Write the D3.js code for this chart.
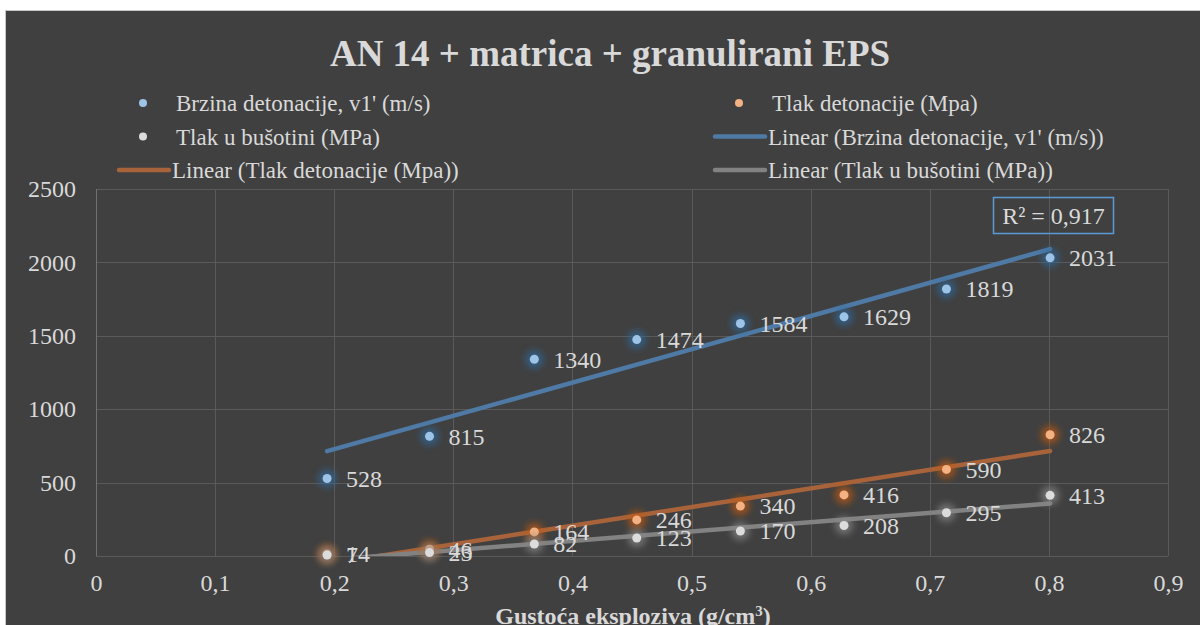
<!DOCTYPE html>
<html>
<head>
<meta charset="utf-8">
<script src="https://cdn.jsdelivr.net/npm/d3@7/dist/d3.min.js"></script>
</head>
<body style="margin:0">
<svg id="chart" width="1200" height="625"></svg>
<script>
// values
const density = [0.194, 0.28, 0.368, 0.454, 0.541, 0.628, 0.714, 0.801];
const brzina = [528, 815, 1340, 1474, 1584, 1629, 1819, 2031];
const tlakDetonacije = [14, 46, 164, 246, 340, 416, 590, 826];
const tlakBusotini = [7, 23, 82, 123, 170, 208, 295, 413];
const xTicks = [0, 0.1, 0.2, 0.3, 0.4, 0.5, 0.6, 0.7, 0.8, 0.9];
const yTicks = [0, 500, 1000, 1500, 2000, 2500];
const seriesNames = ["Brzina detonacije, v1' (m/s)", 'Tlak detonacije (Mpa)', 'Tlak u bušotini (MPa)'];
const rSquared = '0,917';

const width = 1200;
const height = 625;
const margin = { top: 189, left: 96, bottom: 69, right: 32 };
const innerW = width - margin.left - margin.right;
const innerH = height - margin.top - margin.bottom;

const font = '"Liberation Serif"';
const textColor = '#d9d9d9';
const series = [
  { name: seriesNames[0], values: brzina, dot: '#9dc3e6', glow: '#2f6aa0', line: '#4f7aa5' },
  { name: seriesNames[1], values: tlakDetonacije, dot: '#f4b183', glow: '#c55a11', line: '#a8633a' },
  { name: seriesNames[2], values: tlakBusotini, dot: '#dcdcdc', glow: '#8a8a8a', line: '#828282' }
];

const x = d3.scaleLinear().domain([0, 0.9]).range([0, innerW]);
const y = d3.scaleLinear().domain([0, 2500]).range([innerH, 0]);
const fmt = (d) => (d === 0 ? '0' : d3.format('.1f')(d).replace('.', ','));

const svg = d3.select('#chart');

const defs = svg.append('defs');
defs.append('filter')
  .attr('id', 'glow')
  .attr('x', '-100%').attr('y', '-100%')
  .attr('width', '300%').attr('height', '300%')
  .append('feGaussianBlur')
  .attr('stdDeviation', 3.5);
defs.append('clipPath')
  .attr('id', 'plotclip')
  .append('rect')
  .attr('width', innerW)
  .attr('height', innerH);

// chart panel
svg.append('rect')
  .attr('x', 5.5).attr('y', 10.5)
  .attr('width', width).attr('height', height)
  .attr('fill', '#404040')
  .attr('stroke', '#c8c8c8');

function label(sel, size) {
  return sel.attr('fill', textColor)
    .style('font-family', font)
    .style('font-size', `${size}px`);
}

label(svg.append('text'), 37)
  .attr('x', 610).attr('y', 66)
  .attr('text-anchor', 'middle')
  .style('font-weight', 'bold')
  .text('AN 14 + matrica + granulirani EPS');

// legend
const legendItems = [
  { col: 0, row: 0, type: 'dot', s: series[0], text: seriesNames[0] },
  { col: 1, row: 0, type: 'dot', s: series[1], text: seriesNames[1] },
  { col: 0, row: 1, type: 'dot', s: series[2], text: seriesNames[2] },
  { col: 1, row: 1, type: 'line', s: series[0], text: `Linear (${seriesNames[0]})` },
  { col: 0, row: 2, type: 'line', s: series[1], text: `Linear (${seriesNames[1]})` },
  { col: 1, row: 2, type: 'line', s: series[2], text: `Linear (${seriesNames[2]})` }
];
legendItems.forEach((it) => {
  const lx = it.col === 0 ? 172 : 768;
  const ly = 103 + it.row * 33.5;
  const g = svg.append('g').attr('transform', `translate(${lx},${ly})`);
  if (it.type === 'dot') {
    g.append('circle').attr('cx', -29).attr('r', 4).attr('fill', it.s.dot);
  } else {
    g.append('line')
      .attr('x1', -53).attr('x2', -3)
      .attr('stroke', it.s.line).attr('stroke-width', 4.5)
      .attr('stroke-linecap', 'round');
  }
  label(g.append('text'), 23)
    .attr('x', it.type === 'dot' ? 4 : 0)
    .attr('dy', '0.35em')
    .text(it.text);
});

const plot = svg.append('g').attr('transform', `translate(${margin.left},${margin.top})`);

// grid
plot.append('g')
  .selectAll('line')
  .data(yTicks)
  .join('line')
  .attr('x1', 0).attr('x2', innerW)
  .attr('y1', (d) => Math.round(y(d)) + 0.5).attr('y2', (d) => Math.round(y(d)) + 0.5)
  .attr('stroke', '#5a5a5a');
plot.append('g')
  .selectAll('line')
  .data(xTicks)
  .join('line')
  .attr('x1', (d) => Math.round(x(d)) + 0.5).attr('x2', (d) => Math.round(x(d)) + 0.5)
  .attr('y1', 0).attr('y2', innerH)
  .attr('stroke', (d) => (d === 0 ? '#707070' : '#5a5a5a'));

// axes
const yAxis = plot.append('g')
  .call(d3.axisLeft(y).tickValues(yTicks).tickSize(0).tickPadding(20).tickFormat((d) => d));
yAxis.attr('font-family', null).attr('font-size', null);
yAxis.select('.domain').remove();
label(yAxis.selectAll('text'), 24);

const xAxis = plot.append('g')
  .attr('transform', `translate(0,${innerH})`)
  .call(d3.axisBottom(x).tickValues(xTicks).tickSize(0).tickPadding(18).tickFormat(fmt));
xAxis.attr('font-family', null).attr('font-size', null);
xAxis.select('.domain').remove();
label(xAxis.selectAll('text'), 24);

label(svg.append('text'), 24)
  .attr('x', 633).attr('y', 624)
  .attr('text-anchor', 'middle')
  .style('font-weight', 'bold')
  .html('Gustoća eksploziva (g/cm<tspan dy="-8" style="font-size:15px">3</tspan><tspan dy="8">)</tspan>');

// linear trend lines (least squares)
function linearFit(xs, ys) {
  const mx = d3.mean(xs);
  const my = d3.mean(ys);
  const sxy = d3.sum(xs, (v, i) => (v - mx) * (ys[i] - my));
  const sxx = d3.sum(xs, (v) => (v - mx) * (v - mx));
  const b = sxy / sxx;
  return { a: my - b * mx, b };
}

const trends = plot.append('g').attr('clip-path', 'url(#plotclip)');
series.forEach((s) => {
  const fit = linearFit(density, s.values);
  const x0 = d3.min(density);
  const x1 = d3.max(density);
  trends.append('line')
    .attr('x1', x(x0)).attr('y1', y(fit.a + fit.b * x0))
    .attr('x2', x(x1)).attr('y2', y(fit.a + fit.b * x1))
    .attr('stroke', s.line)
    .attr('stroke-width', 4.5)
    .attr('stroke-linecap', 'round');
});

// points
series.forEach((s) => {
  const g = plot.append('g');
  g.selectAll('circle.glow')
    .data(s.values)
    .join('circle')
    .attr('class', 'glow')
    .attr('cx', (d, i) => x(density[i]))
    .attr('cy', (d) => y(d))
    .attr('r', 9)
    .attr('fill', s.glow)
    .attr('opacity', 0.7)
    .attr('filter', 'url(#glow)');
  g.selectAll('circle.dot')
    .data(s.values)
    .join('circle')
    .attr('class', 'dot')
    .attr('cx', (d, i) => x(density[i]))
    .attr('cy', (d) => y(d))
    .attr('r', 4.5)
    .attr('fill', s.dot);
});

// data labels
series.forEach((s) => {
  label(plot.append('g')
    .selectAll('text')
    .data(s.values)
    .join('text'), 24)
    .attr('x', (d, i) => x(density[i]) + 19)
    .attr('y', (d) => y(d))
    .attr('dy', '0.35em')
    .text((d) => d);
});

// R² label
const rBox = svg.append('g').attr('transform', 'translate(993.5,197.5)');
rBox.append('rect')
  .attr('width', 120).attr('height', 36)
  .attr('fill', 'none')
  .attr('stroke', '#5b9bd5')
  .attr('stroke-width', 1.5);
label(rBox.append('text'), 24)
  .attr('x', 60).attr('y', 18)
  .attr('dy', '0.35em')
  .attr('text-anchor', 'middle')
  .text(`R² = ${rSquared}`);
</script>
</body>
</html>
